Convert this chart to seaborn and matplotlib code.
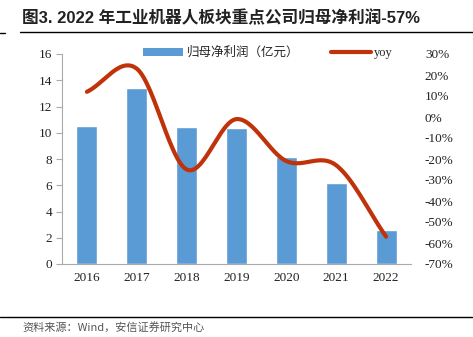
import numpy as np
import pandas as pd
import matplotlib
matplotlib.use("Agg")
import matplotlib.pyplot as plt
import seaborn as sns
from matplotlib.lines import Line2D
from matplotlib.patches import Patch

years = ["2016", "2017", "2018", "2019", "2020", "2021", "2022"]
profit = [10.55, 13.4, 10.45, 10.4, 8.15, 6.15, 2.6]
yoy = [12.0, 23.0, -25.0, -1.0, -21.0, -23.0, -57.0]
left_ticks = [0, 2, 4, 6, 8, 10, 12, 14, 16]
right_ticks = list(range(-70, 31, 10))

sns.set_theme(style="white")
plt.rcParams['font.family'] = ['Liberation Serif', 'Noto Sans CJK SC']

BLUE = "#5B9BD5"
RED = "#C0330A"

fig = plt.figure(figsize=(4.73, 3.37), dpi=100)
W, H = 473, 337
ax = fig.add_axes([62 / W, (H - 264) / H, (411 - 62) / W, (264 - 54) / H])

df = pd.DataFrame({"year": years, "profit": profit})
sns.barplot(data=df, x="year", y="profit", order=years, color=BLUE,
            width=0.42, saturation=1, ax=ax)
ax.set_xlim(-0.5, 6.5)
ax.set_ylim(0, 16)
ax.set_yticks(left_ticks)
ax.set_yticklabels([str(t) for t in left_ticks], fontsize=9.5, color="#222222")
ax.set_xlabel("")
ax.set_ylabel("")
ax.tick_params(axis="x", which="major", length=0, labelsize=9.5, pad=6, labelcolor="#222222")
ax.set_xticks(np.arange(-0.5, 7, 1), minor=True)
ax.tick_params(axis="x", which="minor", length=4, color="#aaaaaa", width=0.8, direction="out")
ax.tick_params(axis="y", length=4, color="#aaaaaa", width=0.8, direction="out", pad=3, left=True)
for s in ["top", "right"]:
    ax.spines[s].set_visible(False)
ax.spines["left"].set_color("#aaaaaa")
ax.spines["bottom"].set_color("#aaaaaa")
ax.spines["left"].set_linewidth(0.8)
ax.spines["bottom"].set_linewidth(0.8)

# secondary axis with smoothed yoy line (Catmull-Rom through data points)
ax2 = ax.twinx()
x = np.arange(len(yoy), dtype=float)
y = np.array(yoy, dtype=float)
px = np.concatenate([[2 * x[0] - x[1]], x, [2 * x[-1] - x[-2]]])
py = np.concatenate([[2 * y[0] - y[1]], y, [2 * y[-1] - y[-2]]])
sx, sy = [], []
t = np.linspace(0, 1, 30)
for i in range(1, len(px) - 2):
    p0, p1, p2, p3 = py[i - 1], py[i], py[i + 1], py[i + 2]
    q0, q1, q2, q3 = px[i - 1], px[i], px[i + 1], px[i + 2]
    f = lambda a0, a1, a2, a3: 0.5 * ((2 * a1) + (-a0 + a2) * t + (2 * a0 - 5 * a1 + 4 * a2 - a3) * t ** 2 + (-a0 + 3 * a1 - 3 * a2 + a3) * t ** 3)
    sx.extend(f(q0, q1, q2, q3))
    sy.extend(f(p0, p1, p2, p3))
smooth = pd.DataFrame({"x": sx, "y": sy})
sns.lineplot(data=smooth, x="x", y="y", color=RED, linewidth=3.0, ax=ax2, sort=False)
ax2.set_ylim(-70, 30)
ax2.set_yticks(right_ticks)
ax2.set_yticklabels([f"{t}%" for t in right_ticks], fontsize=9.5, color="#222222")
ax2.tick_params(axis="y", length=0, pad=10)
ax2.set_ylabel("")
ax2.set_xlabel("")
for s in ax2.spines.values():
    s.set_visible(False)
ax2.grid(False)
ax.grid(False)

handles = [Patch(facecolor=BLUE, edgecolor="none"),
           Line2D([0], [0], color=RED, linewidth=3.0)]
leg = fig.legend(handles, ["归母净利润（亿元）", "yoy"], loc="center",
                 bbox_to_anchor=(268 / W, 1 - 53 / H), ncol=2, frameon=False,
                 handlelength=3.2, handleheight=0.6, columnspacing=2.5,
                 handletextpad=0.3, prop={"family": ['Liberation Serif', 'Noto Sans CJK SC'], "size": 9})

# title and rules
fig.text(22 / W, 1 - 18 / H, "图3. 2022 年工业机器人板块重点公司归母净利润-57%",
         fontsize=12, fontweight="bold", va="center", ha="left",
         family=['Liberation Sans', 'Noto Sans CJK SC'], color="#222222")
fig.add_artist(Line2D([20 / W, 1], [1 - 32 / H, 1 - 32 / H], color="black", linewidth=1.0))
fig.add_artist(Line2D([0, 5 / W], [1 - 33 / H, 1 - 33 / H], color="black", linewidth=1.0))
fig.add_artist(Line2D([0, 1], [1 - 317 / H, 1 - 317 / H], color="black", linewidth=1.0))
fig.text(22 / W, 1 - 327 / H, "资料来源：Wind，安信证券研究中心", fontsize=8, style="italic",
         va="center", ha="left", color="#555555",
         family=['Noto Sans CJK SC', 'DejaVu Sans'])

fig.savefig("out.png", dpi=100)
